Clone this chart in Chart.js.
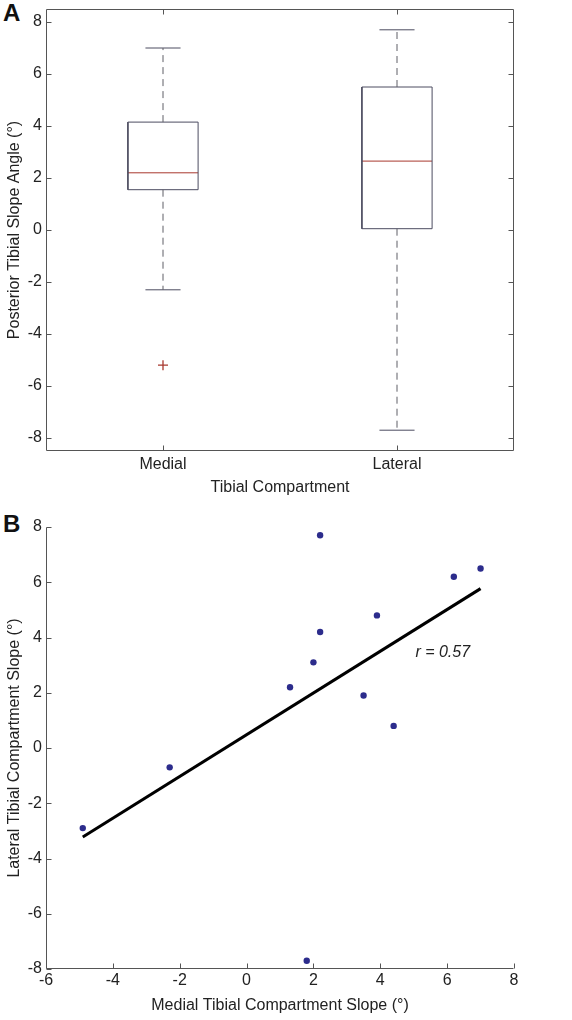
<!DOCTYPE html>
<html>
<head>
<meta charset="utf-8">
<script src="https://cdn.jsdelivr.net/npm/chart.js@4"></script>
<style>
  html, body { margin: 0; padding: 0; background: #fff; }
  body { width: 572px; height: 1020px; position: relative; overflow: hidden; font-family: "Liberation Sans", Arial, sans-serif; }
  canvas { position: absolute; left: 0; }
  #c1 { top: 0; }
  #c2 { top: 495px; }
  .panel { position: absolute; left: 3px; font: bold 24px/24px "Liberation Sans", Arial, sans-serif; color: #111; }
</style>
</head>
<body>
<div class="panel" style="top:1px;">A</div>
<div class="panel" style="top:512px;">B</div>
<canvas id="c1" width="572" height="500"></canvas>
<canvas id="c2" width="572" height="525"></canvas>
<script>
// ---------- Data: panel A (box plot statistics) ----------
const boxCategories   = ['Medial', 'Lateral'];
const boxLowerWhisker = [-2.3, -7.7];
const boxQ1           = [1.55, 0.05];
const boxMedian       = [2.2, 2.65];
const boxQ3           = [4.15, 5.5];
const boxUpperWhisker = [7.0, 7.7];
const boxOutliers     = [[-5.2], []];
const boxYTicks       = [-8, -6, -4, -2, 0, 2, 4, 6, 8];

// ---------- Data: panel B (scatter) ----------
const medialSlope  = [2.2, 6.2, 7.0, 3.9, 2.2, 2.0, 1.3, 3.5, 4.4, -2.3, -4.9, 1.8];
const lateralSlope = [7.7, 6.2, 6.5, 4.8, 4.2, 3.1, 2.2, 1.9, 0.8, -0.7, -2.9, -7.7];
const fitLineX = [-4.9, 7.0];
const fitLineY = [-3.22, 5.77];
const correlationText = 'r = 0.57';

// ---------- Styles ----------
const FONT = '"Liberation Sans", Arial, sans-serif';
const AXIS_COLOR = '#555555';
const TEXT_COLOR = '#222222';
const BOX_COLOR = '#4c4c60';
const MEDIAN_COLOR = '#a8382e';
const WHISKER_COLOR = '#5e5e66';
const DOT_COLOR = '#2c2c8c';
const HALF_BOX = 0.15, HALF_CAP = 0.075, TICK_LEN = 5;

Chart.defaults.font.family = FONT;
Chart.defaults.font.size = 16;
Chart.defaults.color = TEXT_COLOR;
Chart.defaults.animation = false;

const frame = {
  id: 'frame',
  afterDraw(chart, args, opts) {
    const ctx = chart.ctx, a = chart.chartArea;
    const xs = chart.scales.x, ys = chart.scales.y;
    const L = Math.round(a.left) + 0.5, R = Math.round(a.right) - 0.5;
    const T = Math.round(a.top) + 0.5, B = Math.round(a.bottom) - 0.5;
    ctx.save();
    ctx.strokeStyle = AXIS_COLOR; ctx.lineWidth = 1;
    ctx.beginPath();
    ctx.moveTo(L, T); ctx.lineTo(L, B); ctx.lineTo(R, B);
    if (opts.box) { ctx.lineTo(R, T); ctx.lineTo(L, T); }
    xs.ticks.forEach(t => {
      const px = Math.round(xs.getPixelForValue(t.value)) + 0.5;
      ctx.moveTo(px, B); ctx.lineTo(px, B - TICK_LEN);
      if (opts.box) { ctx.moveTo(px, T); ctx.lineTo(px, T + TICK_LEN); }
    });
    ys.ticks.forEach(t => {
      const py = Math.round(ys.getPixelForValue(t.value)) + 0.5;
      ctx.moveTo(L, py); ctx.lineTo(L + TICK_LEN, py);
      if (opts.box) { ctx.moveTo(R, py); ctx.lineTo(R - TICK_LEN, py); }
    });
    ctx.stroke();
    if (opts.label) {
      ctx.fillStyle = TEXT_COLOR;
      ctx.font = 'italic 16px ' + FONT;
      ctx.textAlign = 'left'; ctx.textBaseline = 'middle';
      ctx.fillText(opts.label.text, xs.getPixelForValue(opts.label.x), ys.getPixelForValue(opts.label.y));
    }
    ctx.restore();
  }
};

function seg(points, color, dash, width) {
  return { data: points, showLine: true, borderColor: color, borderWidth: width || 1,
           borderDash: dash || [], pointRadius: 0, fill: false, tension: 0 };
}
function fitY(w) { return s => { s.width = w; s.paddingTop = 0; s.paddingBottom = 0; }; }
function fitX(h) { return s => { s.height = h; s.paddingLeft = 0; s.paddingRight = 0; }; }

// ---------- Panel A ----------
const dsA = [];
boxCategories.forEach((c, i) => {
  const x = i + 1;
  dsA.push(seg([{x, y: boxQ3[i]}, {x, y: boxUpperWhisker[i]}], WHISKER_COLOR, [7, 5]));
  dsA.push(seg([{x, y: boxQ1[i]}, {x, y: boxLowerWhisker[i]}], WHISKER_COLOR, [7, 5]));
  dsA.push(seg([{x: x - HALF_CAP, y: boxUpperWhisker[i]}, {x: x + HALF_CAP, y: boxUpperWhisker[i]}], BOX_COLOR));
  dsA.push(seg([{x: x - HALF_CAP, y: boxLowerWhisker[i]}, {x: x + HALF_CAP, y: boxLowerWhisker[i]}], BOX_COLOR));
  dsA.push(seg([{x: x - HALF_BOX, y: boxQ1[i]}, {x: x + HALF_BOX, y: boxQ1[i]},
                {x: x + HALF_BOX, y: boxQ3[i]}, {x: x - HALF_BOX, y: boxQ3[i]},
                {x: x - HALF_BOX, y: boxQ1[i]}], BOX_COLOR));
  dsA.push(seg([{x: x - HALF_BOX, y: boxMedian[i]}, {x: x + HALF_BOX, y: boxMedian[i]}], MEDIAN_COLOR));
  if (boxOutliers[i].length) {
    dsA.push({ data: boxOutliers[i].map(v => ({x, y: v})), showLine: false, pointStyle: 'cross',
               pointRadius: 5, borderColor: MEDIAN_COLOR, borderWidth: 1.3, backgroundColor: MEDIAN_COLOR });
  }
});

new Chart(document.getElementById('c1'), {
  type: 'scatter',
  data: { datasets: dsA },
  plugins: [frame],
  options: {
    responsive: false,
    layout: { padding: { top: 9, right: 58, left: 0, bottom: 0 } },
    plugins: { legend: { display: false }, tooltip: { enabled: false }, frame: { box: true } },
    scales: {
      x: {
        type: 'linear', min: 0.5, max: 2.5,
        afterBuildTicks: s => { s.ticks = boxCategories.map((c, i) => ({ value: i + 1 })); },
        afterFit: fitX(49),
        ticks: { callback: v => boxCategories[Math.round(v) - 1] || '', padding: 4, maxRotation: 0, color: TEXT_COLOR },
        grid: { display: false, drawTicks: false }, border: { display: false },
        title: { display: true, text: 'Tibial Compartment', padding: { top: 0, bottom: 3 }, color: TEXT_COLOR }
      },
      y: {
        type: 'linear', min: -8.5, max: 8.5,
        afterBuildTicks: s => { s.ticks = boxYTicks.map(v => ({ value: v })); },
        afterFit: fitY(46),
        ticks: { padding: 4, color: TEXT_COLOR },
        grid: { display: false, drawTicks: false }, border: { display: false },
        title: { display: true, text: 'Posterior Tibial Slope Angle (°)', padding: { top: 5, bottom: 0 }, color: TEXT_COLOR }
      }
    }
  }
});

// ---------- Panel B ----------
new Chart(document.getElementById('c2'), {
  type: 'scatter',
  data: { datasets: [
    { data: medialSlope.map((m, i) => ({ x: m, y: lateralSlope[i] })), showLine: false,
      pointRadius: 3.2, pointStyle: 'circle', backgroundColor: DOT_COLOR, borderColor: DOT_COLOR, borderWidth: 0 },
    seg(fitLineX.map((x, i) => ({ x, y: fitLineY[i] })), '#000000', [], 3)
  ] },
  plugins: [frame],
  options: {
    responsive: false,
    layout: { padding: { top: 32, right: 58, left: 0, bottom: 0 } },
    plugins: { legend: { display: false }, tooltip: { enabled: false },
               frame: { box: false, label: { text: correlationText, x: 5.05, y: 3.45 } } },
    scales: {
      x: {
        type: 'linear', min: -6, max: 8,
        ticks: { stepSize: 2, padding: 2, maxRotation: 0, includeBounds: false, color: TEXT_COLOR },
        afterFit: fitX(51),
        grid: { display: false, drawTicks: false }, border: { display: false },
        title: { display: true, text: 'Medial Tibial Compartment Slope (°)', padding: { top: 0, bottom: 5 }, color: TEXT_COLOR }
      },
      y: {
        type: 'linear', min: -8, max: 8,
        ticks: { stepSize: 2, padding: 4, includeBounds: false, color: TEXT_COLOR },
        afterFit: fitY(46),
        grid: { display: false, drawTicks: false }, border: { display: false },
        title: { display: true, text: 'Lateral Tibial Compartment Slope (°)', padding: { top: 5, bottom: 0 }, color: TEXT_COLOR }
      }
    }
  }
});
</script>
</body>
</html>
